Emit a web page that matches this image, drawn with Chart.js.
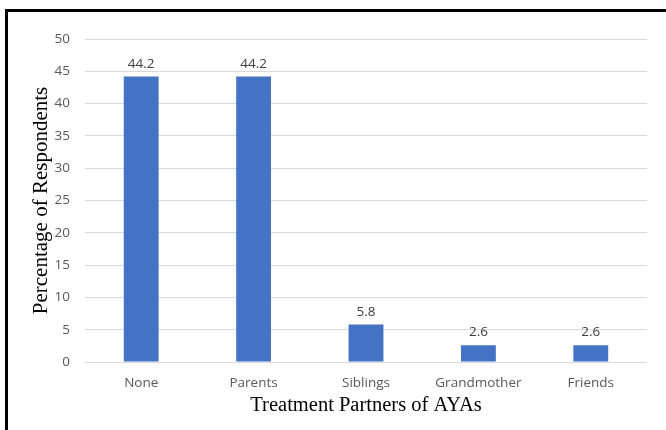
<!DOCTYPE html>
<html>
<head>
<meta charset="utf-8">
<script src="https://cdn.jsdelivr.net/npm/chart.js@4"></script>
<style>
  html, body { margin: 0; padding: 0; background: #fff; }
  #wrap { position: relative; width: 666px; height: 430px; overflow: hidden; }
  #frame { position: absolute; left: 5px; top: 9px; right: -10px; bottom: -10px;
           border-left: 3px solid #000; border-top: 3px solid #000; }
  #box { position: absolute; left: 0; top: 0; width: 666px; height: 430px; }
</style>
</head>
<body>
<div id="wrap">
  <div id="frame"></div>
  <div id="box"><canvas id="chart"></canvas></div>
</div>
<script>
// ===================== DATA =====================
const categories = ["None", "Parents", "Siblings", "Grandmother", "Friends"];
const percentages = [44.2, 44.2, 5.8, 2.6, 2.6];
const yTicks = [0, 5, 10, 15, 20, 25, 30, 35, 40, 45, 50];

// ===================== VALUE LABELS ABOVE BARS =====================
const valueLabels = {
  id: "valueLabels",
  afterDatasetsDraw(chart) {
    const ctx = chart.ctx;
    const meta = chart.getDatasetMeta(0);
    ctx.save();
    ctx.font = "13.5px 'Open Sans'";
    ctx.fillStyle = "#404040";
    ctx.textAlign = "center";
    ctx.textBaseline = "bottom";
    meta.data.forEach((bar, i) => {
      ctx.fillText(percentages[i].toFixed(1), bar.x, bar.y - 6);
    });
    ctx.restore();
  }
};

const ctx = document.getElementById("chart").getContext("2d");

new Chart(ctx, {
  type: "bar",
  data: {
    labels: categories,
    datasets: [{
      data: percentages,
      backgroundColor: "#4472c4",
      barPercentage: 0.31,
      categoryPercentage: 1
    }]
  },
  options: {
    responsive: true,
    maintainAspectRatio: false,
    animation: false,
    layout: { padding: { left: 25, right: 19, top: 39, bottom: 8 } },
    plugins: {
      legend: { display: false },
      tooltip: { enabled: false }
    },
    scales: {
      x: {
        afterFit: (axis) => { axis.height = 60; },
        grid: { display: false, drawTicks: false },
        border: { display: false },
        ticks: { color: "#595959", font: { family: "Open Sans", size: 13.5 }, padding: 13 },
        title: {
          display: true,
          text: "Treatment Partners of AYAs",
          color: "#000",
          font: { family: "Liberation Serif", size: 20.5 },
          padding: { top: 0 }
        }
      },
      y: {
        min: 0,
        max: 50,
        afterBuildTicks: (axis) => { axis.ticks = yTicks.map(v => ({ value: v })); },
        afterFit: (axis) => { axis.width = 60; },
        grid: { color: "#d9d9d9", drawTicks: false },
        border: { display: false },
        ticks: { color: "#595959", font: { family: "Open Sans", size: 13.5 }, padding: 15 },
        title: {
          display: true,
          text: "Percentage of Respondents",
          color: "#000",
          font: { family: "Liberation Serif", size: 21 },
          padding: { bottom: 4 }
        }
      }
    }
  },
  plugins: [valueLabels]
});
</script>
</body>
</html>
